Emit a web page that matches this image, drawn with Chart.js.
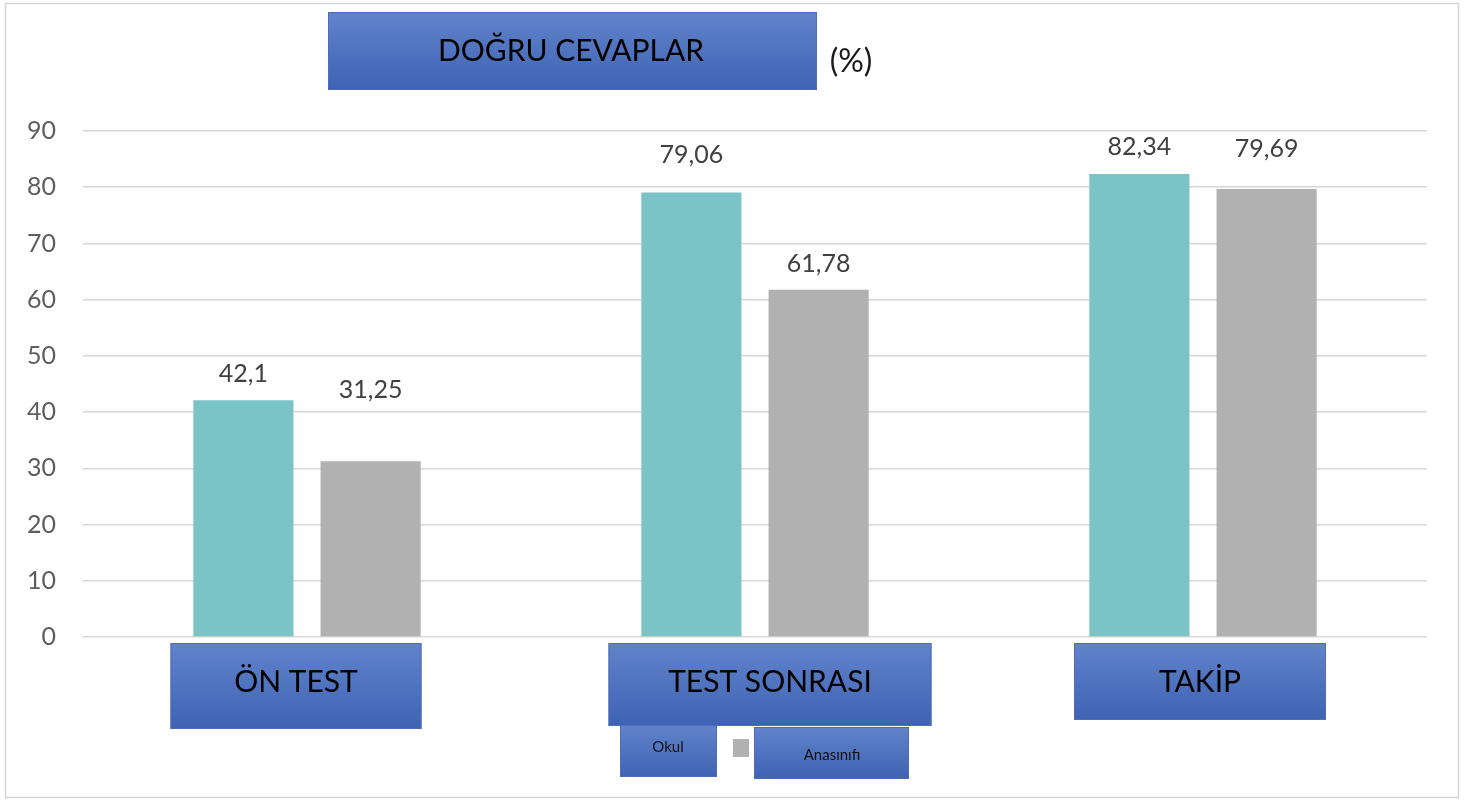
<!DOCTYPE html>
<html>
<head>
<meta charset="utf-8">
<script src="https://cdn.jsdelivr.net/npm/chart.js@4/dist/chart.umd.min.js"></script>
<style>
  html, body { margin: 0; padding: 0; background: #fff; }
  #wrap { width: 1465px; height: 800px; position: relative; }
</style>
</head>
<body>
<div id="wrap"><canvas id="chart" width="1465" height="800"></canvas></div>
<script>
'use strict';

// ── Data ─────────────────────────────────────────────────
const categories   = ['ÖN TEST', 'TEST SONRASI', 'TAKİP'];
const okulValues   = [42.1, 79.06, 82.34];
const anaValues    = [31.25, 61.78, 79.69];
const seriesNames  = ['Okul', 'Anasınıfı'];
const yTicks       = [0, 10, 20, 30, 40, 50, 60, 70, 80, 90];
const titleText    = 'DOĞRU CEVAPLAR';
const unitText     = '(%)';

// ── Look ─────────────────────────────────────────────────
const FONT   = "Lato, 'Open Sans', sans-serif";
const TEAL   = '#7ac3c7';
const GREY   = '#b1b1b1';
const GRID   = '#dcd5d5';

// label lift above the bar top (px), as placed in the original
const labelLift = [[26, 38, 27], [71, 26, 40]];
// category box: offset from tick centre, width, height
const catBoxes = [
  { dx: -11, w: 251, h: 86 },
  { dx: 15,  w: 323, h: 83 },
  { dx: -3,  w: 252, h: 77 },
];

function blueBox(ctx, x, y, w, h) {
  const g = ctx.createLinearGradient(0, y, 0, y + h);
  g.addColorStop(0, '#6283cb');
  g.addColorStop(1, '#3e63b3');
  ctx.fillStyle = g;
  ctx.fillRect(x, y, w, h);
  ctx.strokeStyle = '#4d6dba';
  ctx.lineWidth = 1;
  ctx.strokeRect(x + 0.5, y + 0.5, w - 1, h - 1);
}

function fmt(v) { return String(v).replace('.', ','); }

// ── Decorations plugin ───────────────────────────────────
const decor = {
  id: 'decor',
  beforeDraw(chart) {
    const ctx = chart.ctx;
    ctx.save();
    ctx.fillStyle = '#fff';
    ctx.fillRect(0, 0, chart.width, chart.height);
    ctx.strokeStyle = '#d6d6d6';
    ctx.lineWidth = 1.5;
    ctx.strokeRect(5.5, 3.5, 1453, 794);
    ctx.restore();
  },
  afterDraw(chart) {
    const ctx = chart.ctx;
    const xs  = chart.scales.x;
    const ys  = chart.scales.y;
    ctx.save();

    // title
    blueBox(ctx, 328, 12, 489, 78);
    ctx.fillStyle = '#000';
    ctx.font = `30px ${FONT}`;
    ctx.textAlign = 'center';
    ctx.textBaseline = 'middle';
    ctx.fillText(titleText, 571, 51);
    ctx.fillStyle = '#1a1a1a';
    ctx.font = `32px ${FONT}`;
    ctx.fillText(unitText, 851, 62);

    // value labels
    ctx.font = `25px ${FONT}`;
    ctx.fillStyle = '#404040';
    chart.data.datasets.forEach((ds, di) => {
      const meta = chart.getDatasetMeta(di);
      meta.data.forEach((bar, i) => {
        ctx.fillText(fmt(ds.data[i]), bar.x, bar.y - labelLift[di][i]);
      });
    });

    // category boxes
    const top = ys.getPixelForValue(0) + 6;
    categories.forEach((c, i) => {
      const b  = catBoxes[i];
      const cx = xs.getPixelForValue(i) + b.dx;
      blueBox(ctx, cx - b.w / 2, top, b.w, b.h);
      ctx.fillStyle = '#000';
      ctx.font = `30px ${FONT}`;
      ctx.fillText(c, cx, top + 39);
    });

    // legend
    blueBox(ctx, 620, 725, 97, 52);
    blueBox(ctx, 754, 727, 155, 52);
    ctx.fillStyle = chart.data.datasets[1].backgroundColor;
    ctx.fillRect(733, 739, 16, 18);
    ctx.fillStyle = '#111';
    ctx.font = `15px ${FONT}`;
    ctx.fillText(seriesNames[0], 668, 747);
    ctx.fillText(seriesNames[1], 832, 755);

    ctx.restore();
  },
};

// ── Chart ────────────────────────────────────────────────
new Chart(document.getElementById('chart').getContext('2d'), {
  type: 'bar',
  data: {
    labels: categories,
    datasets: [
      { label: seriesNames[0], data: okulValues, backgroundColor: TEAL },
      { label: seriesNames[1], data: anaValues,  backgroundColor: GREY },
    ],
  },
  options: {
    responsive: false,
    animation: false,
    events: [],
    layout: { padding: { top: 131, right: 38, bottom: 163, left: 0 } },
    datasets: { bar: { categoryPercentage: 0.568, barPercentage: 0.787 } },
    plugins: {
      legend: { display: false },
      tooltip: { enabled: false },
      title: { display: false },
    },
    scales: {
      x: {
        ticks: { display: false },
        grid:  { display: false, drawTicks: false },
        border: { display: false },
        afterFit: s => { s.height = 0; },
      },
      y: {
        min: 0, max: 90,
        afterBuildTicks: s => { s.ticks = yTicks.map(v => ({ value: v })); },
        afterFit: s => { s.width = 83; },
        ticks: {
          color: '#5e5e5e',
          font: { family: FONT, size: 25 },
          padding: 27,
        },
        grid: { color: GRID, lineWidth: 1.5, drawTicks: false },
        border: { display: false },
      },
    },
  },
  plugins: [decor],
});
</script>
</body>
</html>
